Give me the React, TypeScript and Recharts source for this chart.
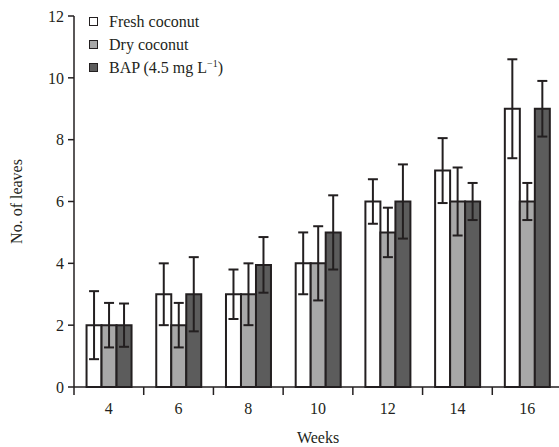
import { BarChart, Bar, XAxis, YAxis, ErrorBar, Legend, Label } from 'recharts';

const weeks = ['4', '6', '8', '10', '12', '14', '16'];
const fresh = [2, 3, 3, 4, 6, 7, 9];
const dry = [2, 2, 3, 4, 5, 6, 6];
const bap = [2, 3, 3.95, 5, 6, 6, 9];
const freshErr = [1.1, 1.0, 0.8, 1.0, 0.72, 1.05, 1.6];
const dryErr = [0.72, 0.72, 1.0, 1.2, 0.8, 1.1, 0.6];
const bapErr = [0.7, 1.2, 0.9, 1.2, 1.2, 0.6, 0.9];
const yTicks = [0, 2, 4, 6, 8, 10, 12];

const series = [
  { key: 'fresh', name: 'Fresh coconut', color: '#ffffff' },
  { key: 'dry', name: 'Dry coconut', color: '#a8a8a8' },
  { key: 'bap', name: 'BAP (4.5 mg L', color: '#5c5c5c' },
];

const data = weeks.map((w, i) => ({
  week: w,
  fresh: fresh[i],
  dry: dry[i],
  bap: bap[i],
  freshErr: freshErr[i],
  dryErr: dryErr[i],
  bapErr: bapErr[i],
}));

const W = 562;
const H = 447;
const YAXIS_W = 74;
const band = (W - YAXIS_W) / weeks.length;
const ink = '#231f20';
const font = '"Liberation Serif", "Times New Roman", serif';

const WeekTick = (props: any) => {
  const { x, y, payload, index } = props;
  return (
    <g>
      <line x1={x - band / 2} y1={y} x2={x - band / 2} y2={y + 8} stroke={ink} strokeWidth={1.5} />
      {index === weeks.length - 1 && (
        <line x1={x + band / 2} y1={y} x2={x + band / 2} y2={y + 8} stroke={ink} strokeWidth={1.5} />
      )}
      <text x={x} y={y + 27} textAnchor="middle" fontSize={16} fill={ink} fontFamily={font}>
        {payload.value}
      </text>
    </g>
  );
};

const LegendBox = () => (
  <div style={{ fontFamily: font, fontSize: 16, color: ink, lineHeight: '23px' }}>
    {series.map(s => (
      <div key={s.key} style={{ display: 'flex', alignItems: 'center' }}>
        <span
          style={{
            display: 'inline-block',
            width: 7,
            height: 7,
            background: s.color,
            border: `1.5px solid ${ink}`,
            marginRight: 11,
          }}
        />
        <span>
          {s.name}
          {s.key === 'bap' && (
            <>
              <sup style={{ fontSize: 10, lineHeight: 0 }}>−1</sup>)
            </>
          )}
        </span>
      </div>
    ))}
  </div>
);

export default function App() {
  return (
    <div style={{ position: 'absolute', left: 0, top: 0, width: 559, height: H, overflow: 'hidden', background: '#fff' }}>
      <BarChart
        width={W}
        height={H}
        data={data}
        margin={{ top: 16, right: 0, bottom: 0, left: 0 }}
        barCategoryGap="18%"
        barGap={0}
      >
        <XAxis
          dataKey="week"
          height={60}
          tickLine={false}
          tickSize={0}
          tickMargin={0}
          tick={<WeekTick />}
          axisLine={{ stroke: ink, strokeWidth: 1.5 }}
          interval={0}
        >
          <Label
            value="Weeks"
            position="insideBottom"
            offset={4}
            style={{ fontFamily: font, fontSize: 16, fill: ink }}
          />
        </XAxis>
        <YAxis
          width={YAXIS_W}
          domain={[0, 12]}
          ticks={yTicks}
          tickSize={6}
          tickMargin={4}
          axisLine={{ stroke: ink, strokeWidth: 1.5 }}
          tickLine={{ stroke: ink, strokeWidth: 1.5 }}
          tick={{ fontFamily: font, fontSize: 16, fill: ink }}
        >
          <Label
            value="No. of leaves"
            angle={-90}
            position="insideLeft"
            offset={16}
            style={{ fontFamily: font, fontSize: 16, fill: ink, textAnchor: 'middle' }}
          />
        </YAxis>
        <Legend
          layout="vertical"
          align="center"
          verticalAlign="middle"
          content={<LegendBox />}
          wrapperStyle={{ top: 10, left: 89, width: 'auto' }}
        />
        {series.map(s => (
          <Bar
            key={s.key}
            dataKey={s.key}
            name={s.name}
            fill={s.color}
            stroke={ink}
            strokeWidth={2}
            isAnimationActive={false}
          >
            <ErrorBar dataKey={`${s.key}Err`} width={5} stroke={ink} strokeWidth={2} />
          </Bar>
        ))}
      </BarChart>
    </div>
  );
}
